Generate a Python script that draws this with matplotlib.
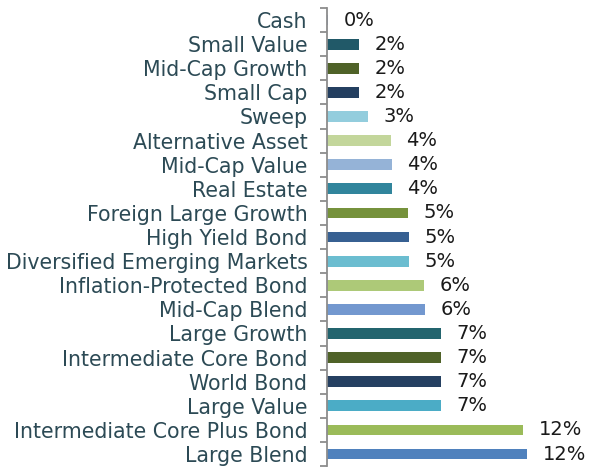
import numpy as np
import matplotlib.pyplot as plt

categories = ['Cash', 'Small Value', 'Mid-Cap Growth', 'Small Cap', 'Sweep',
              'Alternative Asset', 'Mid-Cap Value', 'Real Estate',
              'Foreign Large Growth', 'High Yield Bond',
              'Diversified Emerging Markets', 'Inflation-Protected Bond',
              'Mid-Cap Blend', 'Large Growth', 'Intermediate Core Bond',
              'World Bond', 'Large Value', 'Intermediate Core Plus Bond',
              'Large Blend']
values = [0.08, 1.96, 1.97, 1.97, 2.53, 3.93, 3.99, 3.99, 4.99, 5.05, 5.05,
          5.95, 6.01, 6.99, 6.99, 6.99, 6.99, 12.02, 12.27]
labels = ['0%', '2%', '2%', '2%', '3%', '4%', '4%', '4%', '5%', '5%', '5%',
          '6%', '6%', '7%', '7%', '7%', '7%', '12%', '12%']
colors = ['#8DB4E2', '#215968', '#4F6228', '#243F60', '#93CDDD', '#C3D69B',
          '#95B3D7', '#31859C', '#76923C', '#376092', '#6BBDD0', '#ADC978',
          '#7398CF', '#23646E', '#4F6228', '#254061', '#4BACC6', '#9BBB59',
          '#4F81BD']

fig = plt.figure(figsize=(6.01, 4.68), dpi=100)
ax = fig.add_axes([0.544, 0.004, 0.456, 0.979])

n = len(categories)
ypos = np.arange(n)[::-1]
ax.barh(ypos, values, height=0.45, color=colors)

for y, v, t in zip(ypos, values, labels):
    ax.text(v + 0.95, y, t, va='center', ha='left', fontsize=14, color='#1a1a1a')

ax.set_xlim(0, 16.8)
ax.set_ylim(-0.5, n - 0.5)

# labels on minor ticks, tick marks between categories
ax.set_yticks(np.arange(-0.5, n, 1.0))
ax.set_yticklabels([])
ax.set_yticks(ypos, minor=True)
ax.set_yticklabels(categories, minor=True, fontsize=14.8, color='#2C4A55')
ax.tick_params(axis='y', which='major', length=5, color='#8c8c8c', width=1.3)
ax.tick_params(axis='y', which='minor', length=0, pad=14)
ax.set_xticks([])

for s in ['top', 'right', 'bottom']:
    ax.spines[s].set_visible(False)
ax.spines['left'].set_color('#8c8c8c')
ax.spines['left'].set_linewidth(1.3)

fig.savefig('out.png', dpi=100)
